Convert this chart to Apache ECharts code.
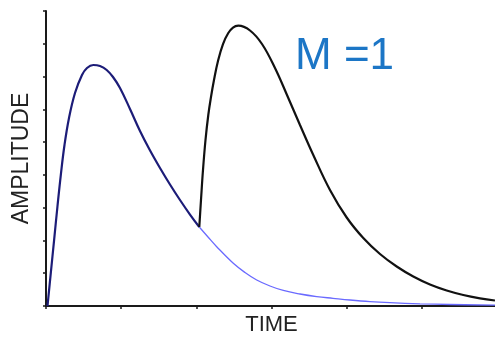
<!DOCTYPE html>
<html>
<head>
<meta charset="utf-8">
<script src="https://cdn.jsdelivr.net/npm/echarts@6/dist/echarts.min.js"></script>
<style>
html,body{margin:0;padding:0;background:#fff;}
#chart{width:495px;height:337px;}
</style>
</head>
<body>
<div id="chart"></div>
<script>
// First response, up to the second stimulus (drawn dark navy)
const firstX = [0.020, 0.0639, 0.1078, 0.1517, 0.1969, 0.2461, 0.3060, 0.3858, 0.4789, 0.5454, 0.6292, 0.7184, 0.8075, 0.8913, 0.9844, 1.1175, 1.2505, 1.3808, 1.5166, 1.6496, 1.7826, 1.9157, 2.0394];
const firstY = [0, 1.007, 2.013, 3.020, 3.996, 4.912, 5.736, 6.498, 7.047, 7.261, 7.352, 7.322, 7.200, 6.986, 6.650, 6.010, 5.339, 4.759, 4.210, 3.707, 3.234, 2.791, 2.410];
// Decay tail of the first response (thin blue)
const tailX = [2.0394, 2.1551, 2.2709, 2.4917, 2.6473, 2.8030, 2.9799, 3.1569, 3.3790, 3.6012, 3.8180, 4.0442, 4.3102, 4.5763, 4.9754, 5.3745, 5.9731];
const tailY = [2.410, 2.105, 1.809, 1.303, 1.022, 0.793, 0.610, 0.473, 0.366, 0.287, 0.235, 0.183, 0.134, 0.101, 0.067, 0.046, 0.024];
// Summed response after the second stimulus (black)
const secondX = [2.0394, 2.0620, 2.0886, 2.1219, 2.1591, 2.1950, 2.2349, 2.2881, 2.3547, 2.4252, 2.4877, 2.5582, 2.7139, 2.8735, 3.0464, 3.2061, 3.3790, 3.5559, 3.7781, 4.0003, 4.2211, 4.4433, 4.6655, 4.8863, 5.1084, 5.3306, 5.5514, 5.7736, 5.9731];
const secondY = [2.410, 3.234, 4.149, 5.064, 5.827, 6.376, 6.894, 7.474, 7.993, 8.328, 8.496, 8.551, 8.405, 7.993, 7.261, 6.437, 5.522, 4.607, 3.539, 2.700, 2.074, 1.586, 1.205, 0.900, 0.656, 0.473, 0.336, 0.235, 0.168];
const xLabel = 'TIME';
const yLabel = 'AMPLITUDE';
const note = 'M =1';

const zip = (xs, ys) => xs.map((x, i) => [x, ys[i]]);

const chart = echarts.init(document.getElementById('chart'), null, {renderer: 'canvas'});
const axisCol = '#1a1a1a';
chart.setOption({
  animation: false,
  backgroundColor: '#fff',
  grid: {left: 46, top: 11, right: -2, bottom: 31, containLabel: false, outerBoundsMode: 'none'},
  xAxis: {
    type: 'value', min: 0, max: 6, interval: 1,
    axisLine: {show: true, lineStyle: {color: axisCol, width: 2}},
    axisTick: {show: true, length: 3, lineStyle: {color: axisCol, width: 1.5}},
    axisLabel: {show: false},
    splitLine: {show: false},
    name: xLabel, nameLocation: 'middle', nameGap: 8,
    nameTextStyle: {fontFamily: 'Liberation Sans, Arial', fontSize: 22, color: '#222'}
  },
  yAxis: {
    type: 'value', min: 0, max: 9, interval: 1,
    axisLine: {show: true, lineStyle: {color: axisCol, width: 2}},
    axisTick: {show: true, length: 3, lineStyle: {color: axisCol, width: 1.5}},
    axisLabel: {show: false},
    splitLine: {show: false},
    name: yLabel, nameLocation: 'middle', nameGap: 13,
    nameTextStyle: {fontFamily: 'Liberation Sans, Arial', fontSize: 23, color: '#222'}
  },
  series: [
    {type: 'line', data: zip(tailX, tailY), smooth: 0.4, symbol: 'none',
     lineStyle: {color: '#6a6aff', width: 1.3}, z: 2},
    {type: 'line', data: zip(firstX, firstY), smooth: 0.4, symbol: 'none',
     lineStyle: {color: '#1c1c78', width: 2.2}, z: 3},
    {type: 'line', data: zip(secondX, secondY), smooth: 0.4, symbol: 'none',
     lineStyle: {color: '#111', width: 2.2}, z: 3}
  ],
  graphic: [{
    type: 'text', left: 295, top: 35,
    style: {text: note, font: '44px "Liberation Sans", Arial', fill: '#1c76c6'}
  }]
});
</script>
</body>
</html>
